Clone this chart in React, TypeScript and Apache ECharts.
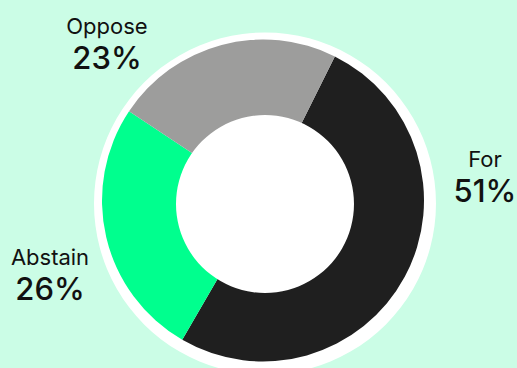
import React, { useEffect, useRef } from "react";
import * as echarts from "echarts";

const categories = ["For", "Abstain", "Oppose"];
const values = [51, 26, 23];
const colors = ["#1f1f1f", "#00ff8e", "#9d9d9c"];
const labelPositions: number[][] = [
  [485, 176],
  [50, 274],
  [107, 43],
];

export default function App() {
  const ref = useRef<HTMLDivElement>(null);
  useEffect(() => {
    if (!ref.current) return;
    const chart = echarts.init(ref.current, null, { renderer: "svg" });
    chart.setOption({
      animation: false,
      backgroundColor: "#cbfde6",
      textStyle: { fontFamily: "Inter" },
      series: [
        {
          type: "pie",
          silent: true,
          z: 1,
          center: [265, 203.5],
          radius: [0, 171],
          label: { show: false },
          labelLine: { show: false },
          data: [{ value: 1, itemStyle: { color: "#ffffff" } }],
        },
        {
          type: "pie",
          z: 2,
          center: [263, 200.5],
          radius: [80, 161],
          startAngle: 63.5,
          clockwise: true,
          avoidLabelOverlap: false,
          itemStyle: { borderWidth: 0 },
          label: {
            show: true,
            position: "outside",
            formatter: (p: any) => `{n|${p.name}}\n{v|${p.value}%}`,
            rich: {
              n: { fontFamily: "Inter", fontSize: 22, lineHeight: 28, color: "#111111", align: "center" },
              v: { fontFamily: "Inter", fontSize: 31, fontWeight: 500, lineHeight: 34, color: "#111111", align: "center" },
            },
          },
          labelLine: { show: false },
          labelLayout: (params: any) => {
            const p = labelPositions[params.dataIndex];
            return { x: p[0], y: p[1], align: "center", verticalAlign: "middle" };
          },
          data: categories.map((c, i) => ({
            name: c,
            value: values[i],
            itemStyle: { color: colors[i] },
          })),
        },
        {
          type: "pie",
          silent: true,
          z: 3,
          center: [265, 204],
          radius: [0, 89],
          label: { show: false },
          labelLine: { show: false },
          data: [{ value: 1, itemStyle: { color: "#ffffff" } }],
        },
      ],
    });
    return () => chart.dispose();
  }, []);
  return (
    <div
      ref={ref}
      style={{ position: "fixed", left: 0, top: 0, width: 517, height: 368, background: "#cbfde6" }}
    />
  );
}
